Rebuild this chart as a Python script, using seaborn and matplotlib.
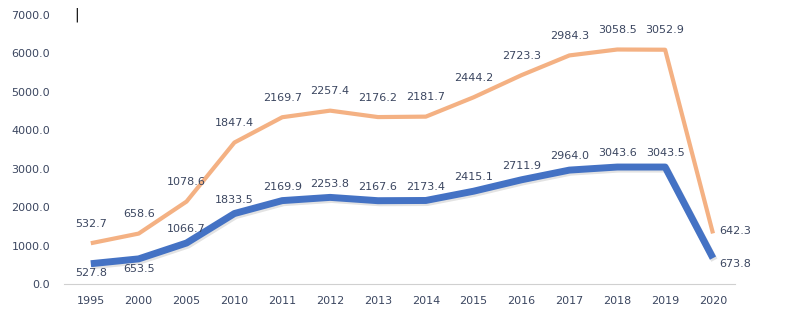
import matplotlib
matplotlib.use("Agg")
import matplotlib.pyplot as plt
import matplotlib.patheffects as pe
import seaborn as sns
import pandas as pd
import numpy as np

years = ["1995", "2000", "2005", "2010", "2011", "2012", "2013", "2014",
         "2015", "2016", "2017", "2018", "2019", "2020"]
series_a = [527.8, 653.5, 1066.7, 1833.5, 2169.9, 2253.8, 2167.6, 2173.4,
            2415.1, 2711.9, 2964.0, 3043.6, 3043.5, 673.8]
series_b = [532.7, 658.6, 1078.6, 1847.4, 2169.7, 2257.4, 2176.2, 2181.7,
            2444.2, 2723.3, 2984.3, 3058.5, 3052.9, 642.3]
yticks = [0, 1000, 2000, 3000, 4000, 5000, 6000, 7000]

stack_b = [a + b for a, b in zip(series_a, series_b)]
df = pd.DataFrame({"year": years, "a": series_a, "stack": stack_b})

sns.set_theme(style="white")
plt.rcParams["font.family"] = ["DejaVu Sans"]

text_c = "#3b4660"
blue = "#4472C4"
orange = "#F4B183"

fig = plt.figure(figsize=(8.04, 3.16), dpi=100)
ax = fig.add_axes([64/804, 32/316, (735-64)/804, (301-32)/316])

sns.lineplot(data=df, x="year", y="stack", ax=ax, color=orange, linewidth=3.0,
             sort=False, solid_joinstyle="round", solid_capstyle="butt")
sns.lineplot(data=df, x="year", y="a", ax=ax, color=blue, linewidth=5.0,
             sort=False, solid_joinstyle="round", solid_capstyle="butt",
             path_effects=[pe.SimpleLineShadow(offset=(1, -1.5), alpha=0.12), pe.Normal()])

ax.set_xlim(-0.56, 13.46)
ax.set_ylim(0, 7000)
ax.set_yticks(yticks)
ax.set_yticklabels([f"{v:.1f}" for v in yticks])
ax.set_xlabel("")
ax.set_ylabel("")
for s in ["top", "right", "left"]:
    ax.spines[s].set_visible(False)
ax.spines["bottom"].set_color("#d0d0d0")
ax.spines["bottom"].set_linewidth(0.8)
ax.tick_params(axis="y", length=0, pad=10, labelsize=8, labelcolor=text_c)
ax.tick_params(axis="x", length=0, pad=9, labelsize=8, labelcolor=text_c)

n = len(years)
for i in range(n):
    # orange labels
    off_b = (16, 2) if i == n - 1 else (0, 14)
    ax.annotate(f"{series_b[i]:.1f}", (i, stack_b[i]), xytext=off_b,
                textcoords="offset points", ha="center", va="center",
                fontsize=8, color=text_c)
    # blue labels
    if i in (0, 1):
        off_a = (0, -7)
    elif i == n - 1:
        off_a = (16, -4)
    else:
        off_a = (0, 10)
    ax.annotate(f"{series_a[i]:.1f}", (i, series_a[i]), xytext=off_a,
                textcoords="offset points", ha="center", va="center",
                fontsize=8, color=text_c)

fig.text(74/804, 1 - 15/316, "|", fontsize=10, color="black", va="center", ha="left")

fig.savefig("out.png", dpi=100)
